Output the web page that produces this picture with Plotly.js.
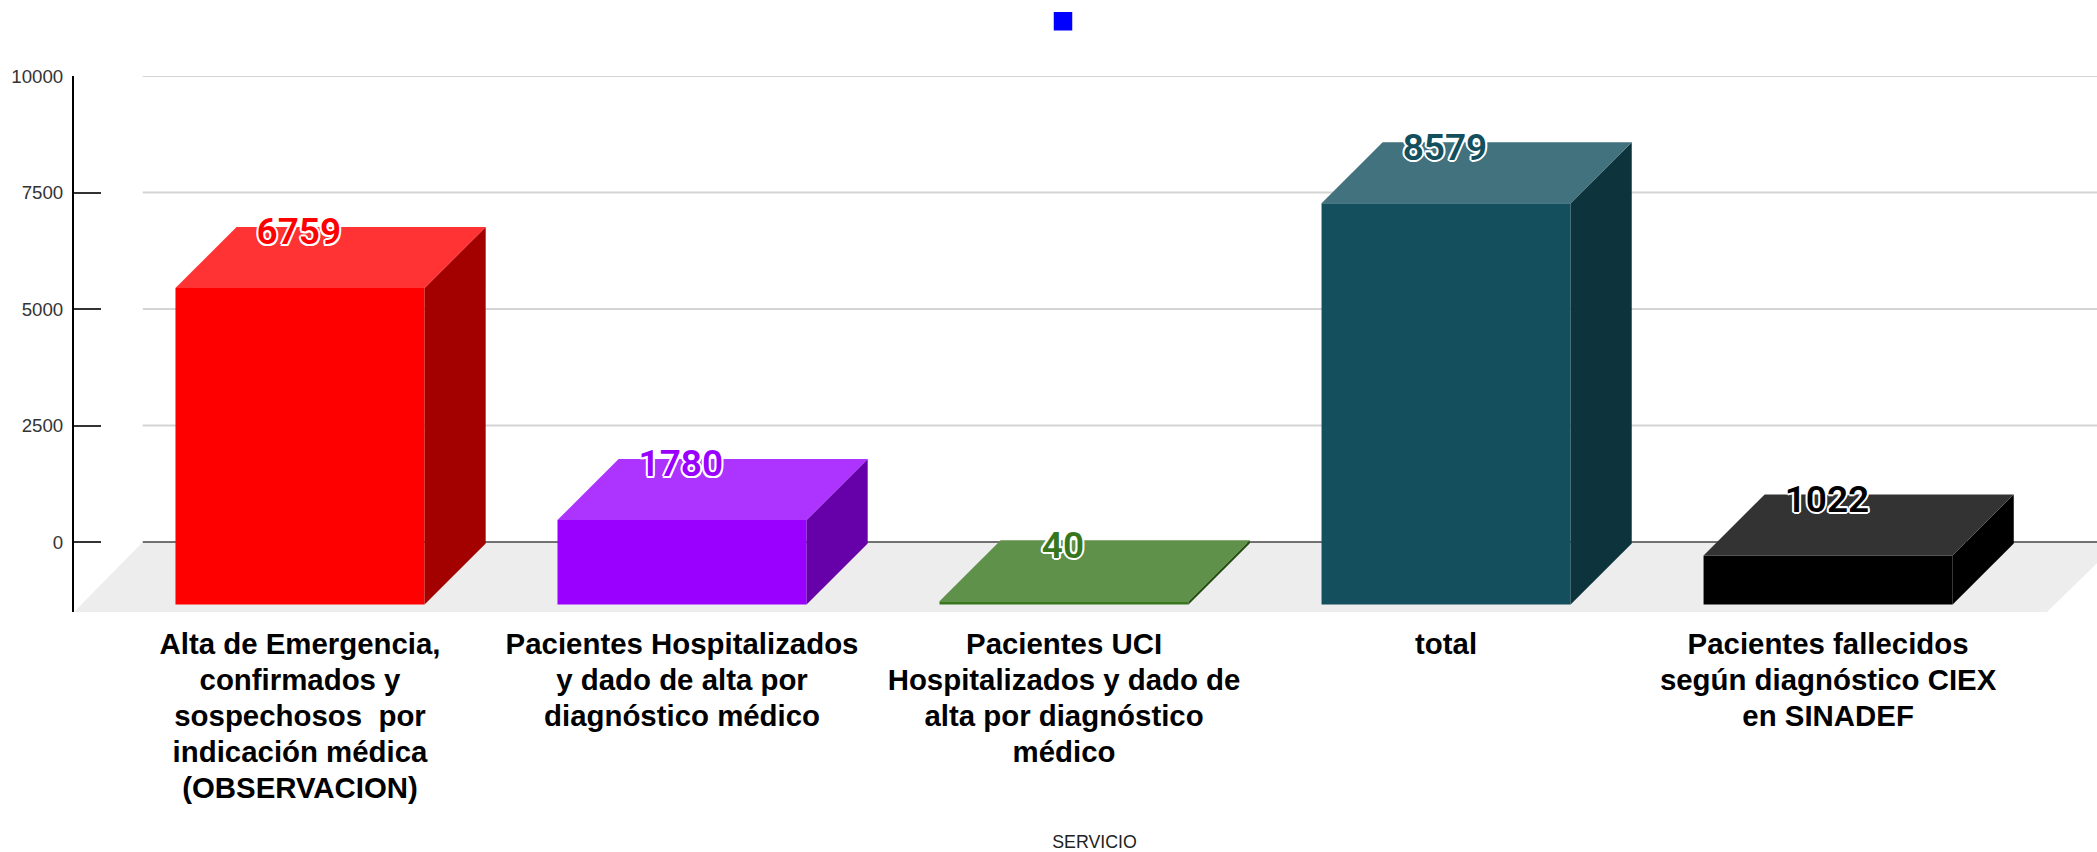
<!DOCTYPE html>
<html><head><meta charset="utf-8">
<script src="https://cdn.plot.ly/plotly-3.0.1.min.js"></script>
<style>html,body{margin:0;padding:0;background:#fff;overflow:hidden;width:2097px;height:852px}</style>
</head><body><div id="chart"></div>
<script>
const categories = [
  "Alta de Emergencia,<br>confirmados y<br>sospechosos  por<br>indicación médica<br>(OBSERVACION)",
  "Pacientes Hospitalizados<br>y dado de alta por<br>diagnóstico médico",
  "Pacientes UCI<br>Hospitalizados y dado de<br>alta por diagnóstico<br>médico",
  "total",
  "Pacientes fallecidos<br>según diagnóstico CIEX<br>en SINADEF"
];
const values = [6759, 1780, 40, 8579, 1022];
const frontColors = ["#ff0000", "#9900ff", "#38761d", "#134f5c", "#000000"];
const topColors   = ["#ff3333", "#ad33ff", "#60914a", "#42727d", "#333333"];
const sideColors  = ["#a30000", "#6600a8", "#254e13", "#0d343d", "#000000"];
const yTicks = [0, 2500, 5000, 7500, 10000];

// pseudo-3D projection, in axis units
const barWidth = 0.652, depthX = 0.16, depthY = 1309, baseY = -1340;
const floorMinY = -1502, floorDepthX = 0.18;
const xMin = -0.5916, xMax = 4.751, yMax = 10000;
const xIdx = categories.map((_, i) => i);

const traces = [];
traces.push({type:"bar", x:xIdx, y:values.map(v => v-depthY-baseY), base:baseY, width:barWidth,
  marker:{color:frontColors, line:{width:0}}, showlegend:false, hoverinfo:"skip"});
values.forEach((v,i) => {
  const l=i-barWidth/2, r=i+barWidth/2;
  traces.push({type:"scatter", mode:"lines", x:[r,r+depthX,r+depthX,r], y:[baseY,baseY+depthY,v,v-depthY],
    fill:"toself", fillcolor:sideColors[i], line:{width:0}, showlegend:false, hoverinfo:"skip"});
  traces.push({type:"scatter", mode:"lines", x:[l,l+depthX,r+depthX,r], y:[v-depthY,v,v,v-depthY],
    fill:"toself", fillcolor:topColors[i], line:{width:0}, showlegend:false, hoverinfo:"skip"});
});
const o = "2px", d = "1.4px";
const outline = [`${o} 0 0 #fff`,`-${o} 0 0 #fff`,`0 ${o} 0 #fff`,`0 -${o} 0 #fff`,`${d} ${d} 0 #fff`,`-${d} ${d} 0 #fff`,`${d} -${d} 0 #fff`,`-${d} -${d} 0 #fff`].join(",");
traces.push({type:"scatter", mode:"text", x:xIdx.map(i=>i-0.003), y:values.map(v=>v-175), text:values.map(String),
  textposition:"middle center", cliponaxis:false,
  textfont:{family:"Roboto", size:37, weight:600, color:frontColors, shadow:outline},
  showlegend:false, hoverinfo:"skip"});
traces.push({type:"scatter", mode:"markers", x:[null], y:[null], name:" ",
  marker:{symbol:"square", color:"#0000ff", size:16, line:{color:"#0000ff", width:2.5}}, showlegend:true, hoverinfo:"skip"});

const floorX = [xMin, xMin+floorDepthX, xMax+0.01, 4.573];
const floorY = [floorMinY, 0, 0, floorMinY];
const floorPath = floorX.map((x,i)=>(i?"L":"M")+x+" "+floorY[i]).join(" ")+" Z";
const shapes = [{type:"path", layer:"below", xref:"x", yref:"y", path:floorPath, fillcolor:"#ededed", line:{width:0}}]
 .concat(yTicks.map(t => ({type:"line", layer:"below", xref:"x", yref:"y",
  x0:xMin+floorDepthX, x1:xMax, y0:t, y1:t,
  line:{color: t===0 ? "#444444" : "#d4d4d4", width: t===0 ? 1.5 : 2}})));

const W = 2115;
const layout = {
  width:W, height:852, paper_bgcolor:"#fff", plot_bgcolor:"#fff",
  margin:{l:74, r:0, t:76, b:240, pad:0},
  font:{family:"Liberation Sans", color:"#000"},
  barmode:"overlay", shapes,
  showlegend:true,
  legend:{orientation:"h", x:(1053-10)/W, xref:"container", y:0.9935, yref:"container", yanchor:"top", xanchor:"left",
    font:{size:14}, itemsizing:"trace", bgcolor:"rgba(0,0,0,0)"},
  xaxis:{range:[xMin,xMax], tickmode:"array", tickvals:xIdx, ticktext:categories, tickangle:0,
    tickfont:{family:"Liberation Sans", size:29.4, weight:"bold", color:"#000"},
    ticks:"", showgrid:false, zeroline:false, showline:false, ticklabelstandoff:12,
    automargin:false,
    title:{text:"SERVICIO", font:{family:"Liberation Sans", size:17.8, color:"#222"}, standoff:56}},
  yaxis:{range:[floorMinY,yMax], tickmode:"array", tickvals:yTicks, ticktext:yTicks.map(String),
    tickfont:{family:"Liberation Sans", size:18.7, color:"#333"},
    ticks:"inside", ticklen:27, tickwidth:2, tickcolor:"#333",
    showline:true, linecolor:"#000", linewidth:2, showgrid:false, zeroline:false,
    ticklabelstandoff:5, automargin:false}
};
Plotly.newPlot("chart", traces, layout, {displayModeBar:false, responsive:false, staticPlot:true}).then(gd => {
  // tighten category label leading to match the reference
  document.querySelectorAll(".xtick text tspan.line").forEach(t => {
    const dy = parseFloat(t.getAttribute("dy"));
    if (!isNaN(dy)) t.setAttribute("dy", (dy*36/38.22)+"em");
  });
});
</script></body></html>
